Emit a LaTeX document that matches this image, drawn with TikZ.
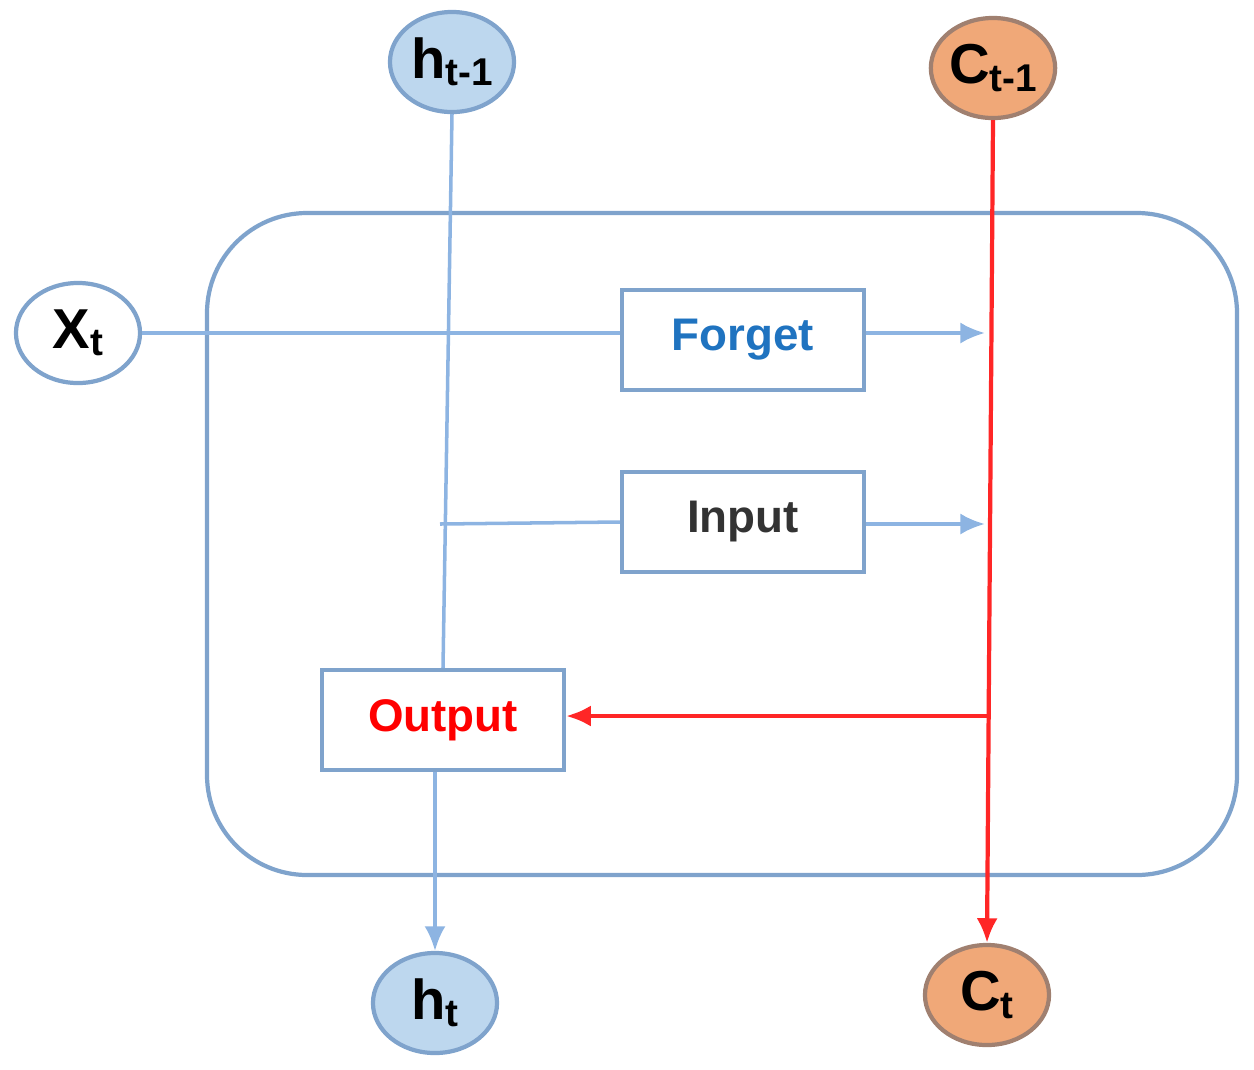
\documentclass[tikz,border=0pt]{standalone}
\usepackage{fontspec}
\setmainfont{Liberation Sans}
\usetikzlibrary{arrows.meta,shapes.geometric}
\definecolor{lb}{HTML}{BDD7EE}
\definecolor{lbd}{HTML}{7FA3CC}
\definecolor{ln}{HTML}{8DB4E2}
\definecolor{org}{HTML}{F0A878}
\definecolor{orgd}{HTML}{A08070}
\definecolor{fb}{HTML}{1F73C0}
\newcommand{\sbs}[1]{\raisebox{-0.25ex}{\fontsize{11}{11}\selectfont #1}}
\begin{document}
\begin{tikzpicture}[x=0.01cm,y=-0.01cm,
  st/.style={draw=lbd,line width=1.2pt,minimum width=1.24cm,minimum height=1cm,ellipse,inner sep=0pt,font=\bfseries\fontsize{16}{16}\selectfont},
  bx/.style={draw=lbd,line width=1.2pt,fill=white,minimum width=2.42cm,minimum height=1cm,font=\bfseries\fontsize{13}{13}\selectfont},
  bl/.style={draw=ln,line width=1pt},
  rd/.style={draw=red!85!white,line width=1.2pt},
  ar/.style={-{Latex[length=7pt,width=6pt]}}]
\useasboundingbox (0,0) rectangle (1254,1069);
\draw[lbd,line width=1.2pt,rounded corners=1cm] (207,213) rectangle (1237,875);
\node[st,fill=lb] (h1) at (452,62) {h\sbs{t-1}};
\node[st,fill=org,draw=orgd] (c1) at (993,68) {C\sbs{t-1}};
\node[st,fill=white] (x) at (78,333) {X\sbs{t}};
\node[st,fill=lb] (h) at (435,1003) {h\sbs{t}};
\node[st,fill=org,draw=orgd] (c) at (987,995) {C\sbs{t}};
\node[bx,text=fb] (f) at (743,340) {Forget};
\node[bx,text=black!80] (i) at (743,522) {Input};
\node[bx,text=red] (o) at (443,720) {Output};
\coordinate (fa) at (985,333);
\coordinate (ia) at (985,524);
\coordinate (il) at (440,524);
\coordinate (oj) at (989,716);
\draw[bl] (h1.south) -- (o.north);
\draw[bl] (x.east) -- (x.east -| f.west);
\draw[bl] (il) -- (i.west);
\draw[bl,ar] (f.east |- fa) -- (fa);
\draw[bl,ar] (i.east |- ia) -- (ia);
\draw[bl,ar] (o.south -| h.north) -- (h.north);
\draw[rd,ar] (c1.south) -- (c.north);
\draw[rd,ar] (oj) -- (o.east |- oj);
\end{tikzpicture}
\end{document}
